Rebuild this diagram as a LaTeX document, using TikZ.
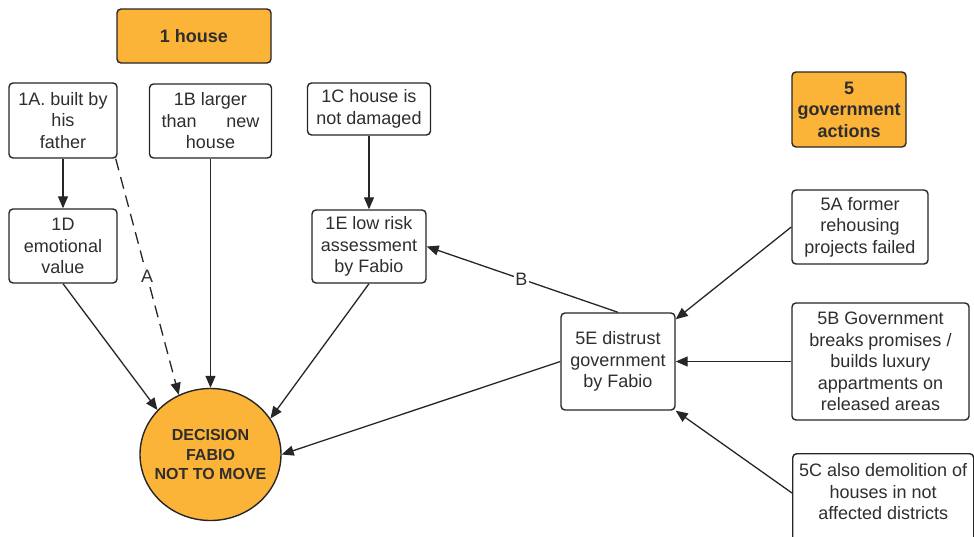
\documentclass[tikz,border=0pt]{standalone}
\usepackage{fontspec}
\setmainfont{Liberation Sans}
\usetikzlibrary{arrows.meta,shapes.geometric}
\definecolor{boxorange}{HTML}{FBB438}
\definecolor{ink}{HTML}{262626}
\definecolor{txt}{HTML}{2E2E2E}

\begin{document}
\begin{tikzpicture}[x=1pt,y=-1pt,
  base/.style={draw=ink, line width=1.4pt, rounded corners=4pt, align=center,
    text=txt, inner sep=0pt, font=\fontsize{18}{21.5}\selectfont},
  factor/.style={base, fill=white},
  theme/.style={base, fill=boxorange, font=\bfseries\fontsize{18}{21.5}\selectfont},
  decision/.style={ellipse, draw=ink, line width=1.4pt, fill=boxorange,
    minimum width=141pt, minimum height=132pt, inner sep=-25pt, align=center,
    text=txt, font=\bfseries\fontsize{16}{19.5}\selectfont},
  link/.style={draw=ink, line width=1.3pt, -{Triangle[length=12pt,width=10pt]}},
  weaklink/.style={link, dash pattern=on 12pt off 7pt},
  tag/.style={fill=white, inner sep=1.5pt, text=txt, font=\fontsize{18}{21.5}\selectfont}
]
\useasboundingbox (0,0) rectangle (974,536);

% theme headers
\node[theme, minimum width=154pt, minimum height=54pt] (house) at (194,36) {1 house};
\node[theme, minimum width=114pt, minimum height=75pt] (gov) at (849,109.5) {5\\government\\actions};

% house factors
\node[factor, minimum width=108pt, minimum height=75pt] (f1A) at (63,120.5) {1A. built by\\his\\father};
\node[factor, minimum width=122pt, minimum height=74pt] (f1B) at (210.5,121) {1B larger\\\makebox[98pt]{than\hfill new}\\house};
\node[factor, minimum width=123pt, minimum height=52pt] (f1C) at (369,109) {1C house is\\not damaged};
\node[factor, minimum width=108pt, minimum height=74pt] (f1D) at (63,246) {1D\\emotional\\value};
\node[factor, minimum width=114pt, minimum height=73pt] (f1E) at (369,246.5) {1E low risk\\assessment\\by Fabio};

% government factors
\node[factor, minimum width=136pt, minimum height=74pt] (f5A) at (860,227) {5A former\\rehousing\\projects failed};
\node[factor, minimum width=177pt, minimum height=117pt] (f5B) at (880.5,361.5) {5B Government\\breaks promises /\\builds luxury\\appartments on\\released areas};
\node[factor, anchor=north west, inner xsep=3pt, inner ysep=10pt] (f5C) at (792,453)
  {\parbox[t][80pt][t]{175pt}{\centering 5C also demolition of\\houses in not\\affected districts}};
\node[factor, minimum width=114pt, minimum height=97pt] (f5E) at (618,361.5) {5E distrust\\government\\by Fabio};

% decision
\node[decision] (dec) at (210.5,454.5) {DECISION\\FABIO\\NOT TO MOVE};

% connectors
\draw[link] (f1A) -- (f1D);
\draw[weaklink] ([xshift=-2pt]f1A.south east) -- node[tag, pos=0.5] {A} (dec.118.6);
\draw[link] (f1B) -- (dec);
\draw[link] (f1C) -- (f1E);
\draw[link] (f1D.south) -- (dec.140.9);
\draw[link] (f1E.south) -- (dec.31.5);
\draw[link] (f5E.north) -- node[tag, pos=0.505] {B} (f1E.east);
\draw[link] (f5E.west) -- (dec.east);
\draw[link] (f5A.west) -- ([yshift=-7pt]f5E.north east);
\draw[link] (f5B.west) -- (f5E.east);
\draw[link] ([yshift=-40pt]f5C.north west) -- (f5E.south east);
\end{tikzpicture}
\end{document}
